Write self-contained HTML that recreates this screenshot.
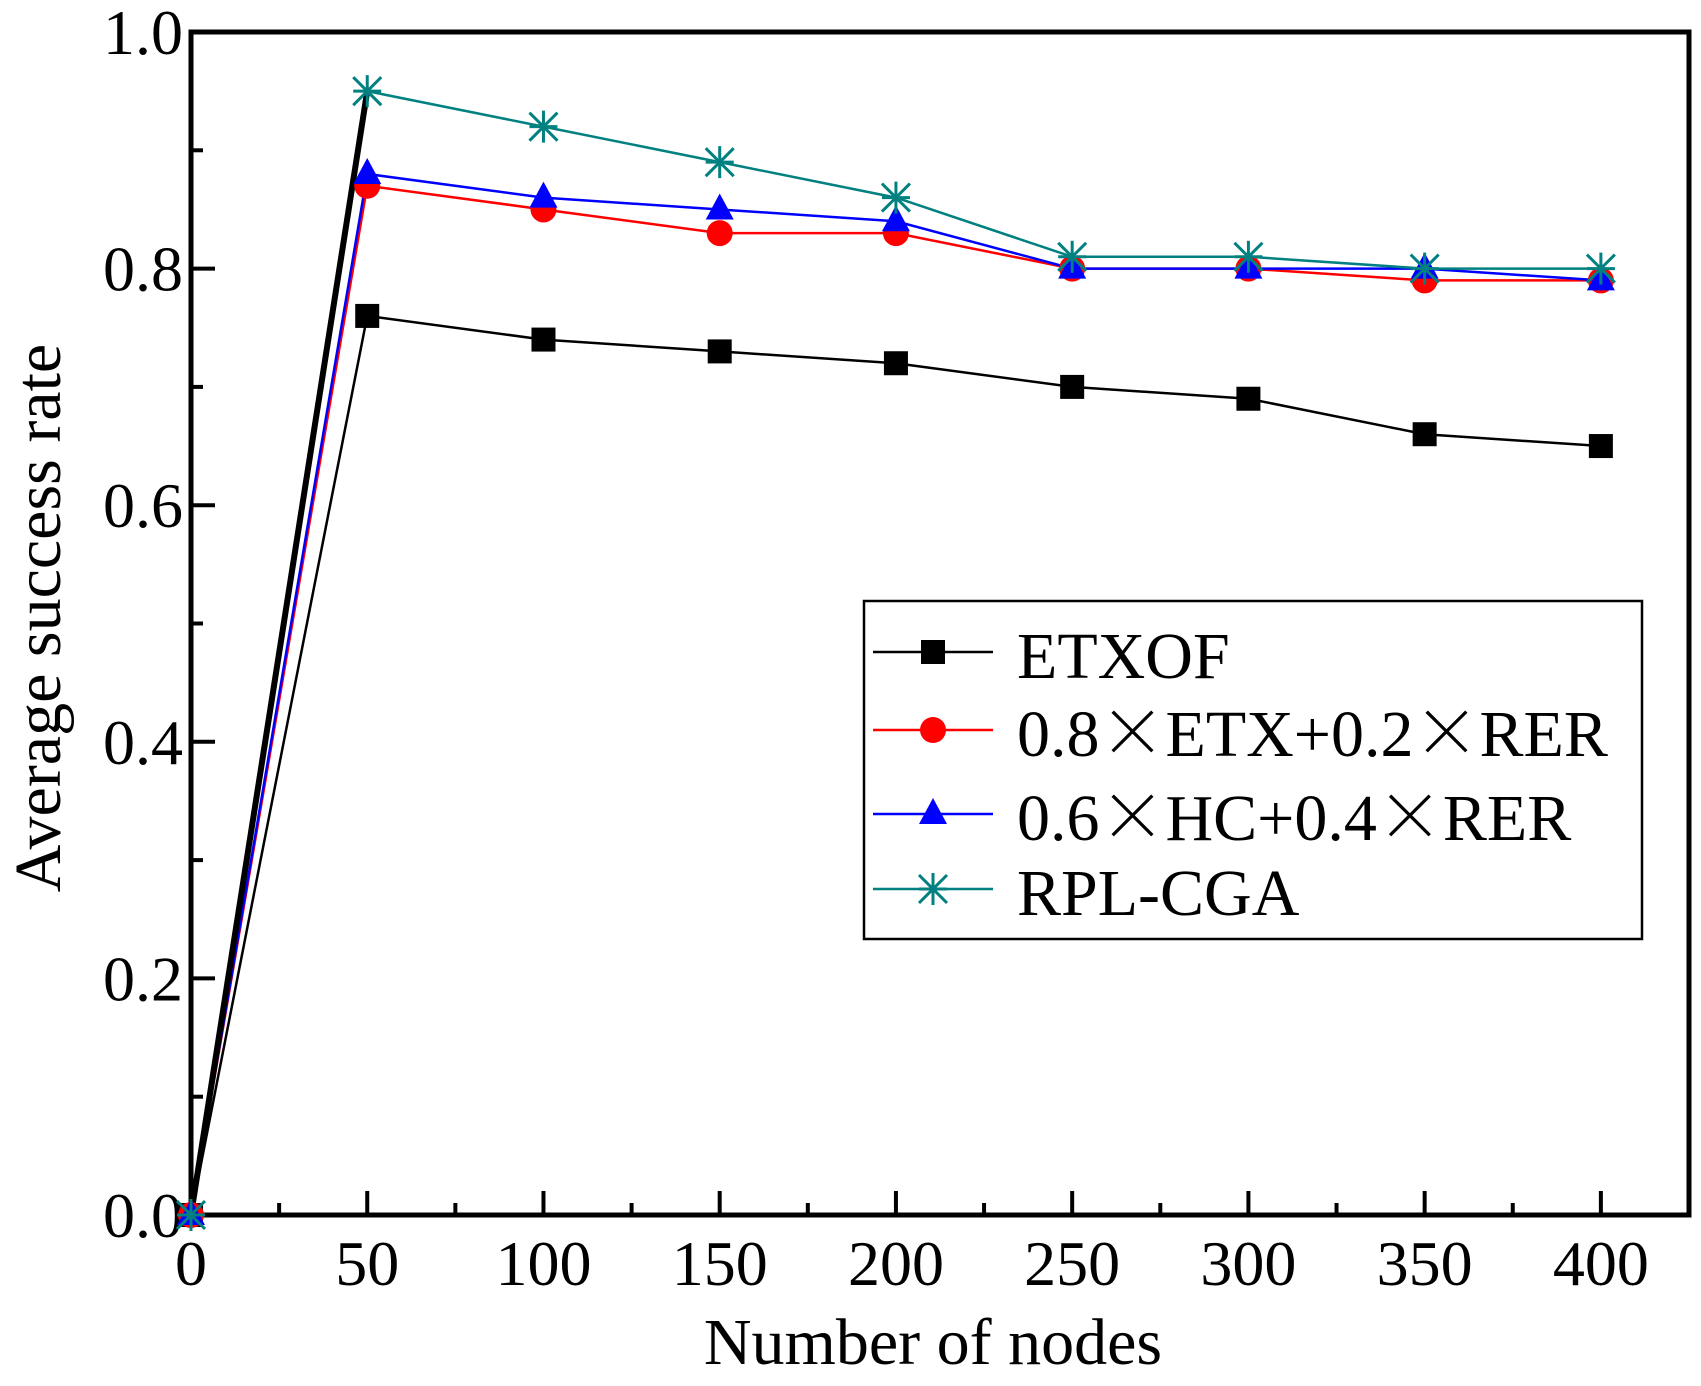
<!DOCTYPE html>
<html><head><meta charset="utf-8"><style>
html,body{margin:0;padding:0;background:#fff;}
svg{display:block;font-family:"Liberation Serif",serif;}
</style></head><body>
<svg id="chart" width="1701" height="1386" viewBox="0 0 1701 1386"></svg>
<script>
const categories=[0,50,100,150,200,250,300,350,400];
const etxof=[0,0.76,0.74,0.73,0.72,0.70,0.69,0.66,0.65];
const etxRer=[0,0.87,0.85,0.83,0.83,0.80,0.80,0.79,0.79];
const hcRer=[0,0.88,0.86,0.85,0.84,0.80,0.80,0.80,0.79];
const rplCga=[0,0.95,0.92,0.89,0.86,0.81,0.81,0.80,0.80];
const xTicks=[0,50,100,150,200,250,300,350,400];
const yTicks=[0.0,0.2,0.4,0.6,0.8,1.0];
const yTickLabels=["0.0","0.2","0.4","0.6","0.8","1.0"];
const seriesNames=[["ETXOF"],["0.8","×","ETX+0.2","×","RER"],["0.6","×","HC+0.4","×","RER"],["RPL-CGA"]];

const L=191,R=1689,T=32,B=1215;
const xs=v=>L+(v/425)*(R-L);
const ys=v=>B-v*(B-T);
const svg=document.getElementById('chart');
const NS='http://www.w3.org/2000/svg';
function mk(tag,attrs,parent){const e=document.createElementNS(NS,tag);for(const k in attrs)e.setAttribute(k,attrs[k]);(parent||svg).appendChild(e);return e;}

const frame=mk('rect',{x:L,y:T,width:R-L,height:B-T,fill:'none',stroke:'#000','stroke-width':5});



for(let i=0;i<=10;i++){const v=i/10;const major=i%2===0;
 const t=mk('line',{x1:L,x2:L+(major?24:12),y1:ys(v),y2:ys(v),stroke:'#000','stroke-width':4});
 
 }
yTicks.forEach((v,i)=>{const t=mk('text',{x:L-8,y:ys(v)+22,'text-anchor':'end','font-size':64});
 t.textContent=yTickLabels[i];
 
 });
for(let v=25;v<=400;v+=25){const major=v%50===0;
 const t=mk('line',{x1:xs(v),x2:xs(v),y1:B,y2:B-(major?24:12),stroke:'#000','stroke-width':4});
 
 }
xTicks.forEach(v=>{const t=mk('text',{x:xs(v),y:B+70,'text-anchor':'middle','font-size':64});
 t.textContent=String(v);
 
 });

const xt=mk('text',{x:933,y:1364,'text-anchor':'middle','font-size':66});
xt.textContent='Number of nodes';


const yt=mk('text',{x:0,y:0,'text-anchor':'middle','font-size':66,transform:'translate(60,618) rotate(-90)'});
yt.textContent='Average success rate';



function marker(type,x,y,color,g){
 if(type==='square')return mk('rect',{x:x-12,y:y-12,width:24,height:24,fill:color},g);
 if(type==='circle')return mk('ellipse',{cx:x,cy:y,rx:13,ry:13,fill:color},g);
 if(type==='tri')return mk('polygon',{points:`${x},${y-16} ${x-14},${y+10} ${x+14},${y+10}`,fill:color},g);
 const gg=mk('g',{stroke:color,'stroke-width':3},g);
 [[0,-16,0,16],[-14,-14,14,14],[-14,14,14,-14],[-14,0,14,0]].forEach(s=>mk('line',{x1:x+s[0],y1:y+s[1],x2:x+s[2],y2:y+s[3]},gg));
 return gg;
}
const series=[[etxof,'#000','square','etxof'],[etxRer,'#ff0000','circle','etx-rer'],[hcRer,'#0000ff','tri','hc-rer'],[rplCga,'#008080','star','rpl-cga']];
series.forEach(([vals,color,type,name])=>{
 const g=mk('g',{});
 
 
 const ln=mk('polyline',{points:vals.map((v,i)=>xs(categories[i])+','+ys(v)).join(' '),fill:'none',stroke:color,'stroke-width':2.5},g);
 
 
});
const art=mk('line',{x1:xs(0),y1:ys(0),x2:xs(50),y2:ys(rplCga[1]),stroke:'#000','stroke-width':6});


series.forEach(([vals,color,type,name])=>{
 const g=mk('g',{});
 
 
 vals.forEach((v,i)=>{const m=marker(type,xs(categories[i]),ys(v),color,g);
  
  });
});

const lg=mk('g',{});


const lb=mk('rect',{x:864,y:601,width:778,height:338,fill:'#fff',stroke:'#000','stroke-width':2.5},lg);


const ly=[652,730,814,889];
series.forEach(([vals,color,type,name],i)=>{
 const eg=mk('g',{},lg);
 
 
 mk('line',{x1:873,x2:993,y1:ly[i],y2:ly[i],stroke:color,'stroke-width':2.5},eg);
 marker(type,933,ly[i],color,eg);
 const t=mk('text',{x:1017,y:ly[i]+26,'font-size':66},eg);
 seriesNames[i].forEach(part=>{
  const sp=mk('tspan',{},t);
  if(part==='×'){sp.setAttribute('font-family','"Noto Sans CJK SC", sans-serif');sp.setAttribute('font-weight','300');sp.textContent='\u00D7';sp.setAttribute('font-size','66');}
  else sp.textContent=part;
 });
});
</script>
</body></html>
